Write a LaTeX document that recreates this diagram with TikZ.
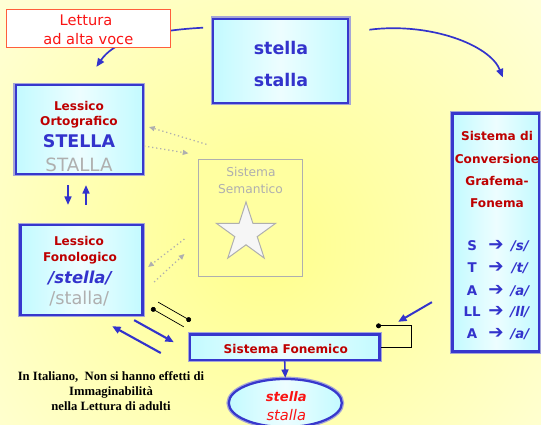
\documentclass[tikz,border=0pt]{standalone}
\usepackage{fontspec}
\setmainfont{DejaVu Sans}
\newfontfamily\notefont{Liberation Serif}
\usepackage{tikz}
\usetikzlibrary{positioning,shapes,arrows.meta,calc}
\definecolor{inkblue}{RGB}{51,51,204}
\definecolor{edgeblue}{RGB}{55,55,205}
\definecolor{edgelav}{RGB}{165,165,215}
\definecolor{boxcyan}{RGB}{195,250,255}
\definecolor{darkred}{RGB}{190,0,0}
\definecolor{lightred}{RGB}{250,20,20}
\definecolor{orangeedge}{RGB}{255,95,60}
\definecolor{semgray}{RGB}{175,175,175}
\definecolor{semyellow}{RGB}{255,255,160}
\definecolor{bgyellow}{RGB}{255,255,140}
\definecolor{starwhite}{RGB}{246,246,246}
\newcommand{\maparrow}{{\fontsize{13}{13}\selectfont ➔}}

\begin{document}
\begin{tikzpicture}[x=0.025cm,y=-0.025cm,
  bluebox/.style={rectangle, draw=edgeblue, line width=1.6pt, inner sep=0pt,
    left color=boxcyan, right color=boxcyan, middle color=boxcyan!30,
    preaction={draw=edgelav, line width=3.4pt}},
  redlbl/.style={anchor=base, text=darkred, font=\fontsize{8.6}{10}\selectfont\bfseries},
  bluelbl/.style={anchor=base, text=inkblue, font=\fontsize{12.4}{14}\selectfont\bfseries},
  graylbl/.style={anchor=base, text=semgray, font=\fontsize{13}{15}\selectfont},
  maplbl/.style={anchor=base, text=inkblue, font=\fontsize{9.5}{11}\selectfont\bfseries, inner sep=0pt},
  bluearrow/.style={draw=inkblue, line width=1.3pt, -{Triangle[length=6pt,width=5pt]}},
  dotarrow/.style={draw=semgray, dotted, line width=0.9pt, -{Triangle[length=4pt,width=3.5pt]}},
  dotline/.style={draw=black, line width=0.5pt},
]
\useasboundingbox (0,0) rectangle (541,424);

% background glow
\begin{scope}
\clip (0,0) rectangle (541,424);
\shade[inner color=bgyellow, outer color=white] (265,245) circle (560);
\end{scope}

% Sistema Semantico (greyed out)
\node[rectangle, draw=semgray, fill=semyellow, line width=0.8pt, minimum width=2.6cm, minimum height=2.92cm] (sem) at (250.5,217.7) {};
\node[anchor=base, text=semgray, font=\fontsize{8.7}{10}\selectfont] (semA) at (251,176) {Sistema};
\node[anchor=base, text=semgray, font=\fontsize{8.7}{10}\selectfont] (semB) at (250.5,193) {Semantico};
\draw[fill=starwhite, draw=semgray, line width=0.7pt, shift={(246,233)}]
  (-90:31) -- (-54:11.8) -- (-18:31) -- (18:11.8) -- (54:31) -- (90:11.8)
  -- (126:31) -- (162:11.8) -- (198:31) -- (234:11.8) -- cycle;

% word box on top
\node[bluebox, minimum width=3.375cm, minimum height=2.1cm] (stella) at (280.7,60.7) {};
\node[bluelbl] (stellaA) at (281,54) {stella};
\node[bluelbl] (stellaB) at (281,86.5) {stalla};

% lexicons
\node[bluebox, minimum width=3.175cm, minimum height=2.225cm] (orto) at (79.4,129.5) {};
\node[redlbl] (ortoA) at (79,110) {Lessico};
\node[redlbl] (ortoB) at (79,125) {Ortografico};
\node[bluelbl] (ortoC) at (79,147) {STELLA};
\node[graylbl] (ortoD) at (79,171) {STALLA};

\node[bluebox, minimum width=3.05cm, minimum height=2.25cm] (fono) at (81.6,270) {};
\node[redlbl] (fonoA) at (79,245) {Lessico};
\node[redlbl] (fonoB) at (80,261.7) {Fonologico};
\node[bluelbl, font=\fontsize{11.7}{14}\selectfont\bfseries\itshape] (fonoC) at (80,283) {/stella/};
\node[graylbl, font=\fontsize{12.6}{15}\selectfont] (fonoD) at (79.3,304) {/stalla/};

% conversion rules
\node[bluebox, minimum width=2.1625cm, minimum height=5.95cm] (conv) at (495.8,232.5) {};
\node[redlbl] (convA) at (497,140) {Sistema di};
\node[redlbl] (convB) at (497,163) {Conversione};
\node[redlbl] (convC) at (497,185) {Grafema-};
\node[redlbl] (convD) at (497,207) {Fonema};
\node[maplbl] (mapS) at (496,250.7) {\makebox[20pt]{S}\makebox[14pt]{\maparrow}\makebox[20pt]{\itshape /s/}};
\node[maplbl] (mapT) at (496,272.3) {\makebox[20pt]{T}\makebox[14pt]{\maparrow}\makebox[20pt]{\itshape /t/}};
\node[maplbl] (mapA) at (496,295) {\makebox[20pt]{A}\makebox[14pt]{\maparrow}\makebox[20pt]{\itshape /a/}};
\node[maplbl] (mapL) at (496,316.7) {\makebox[20pt]{LL}\makebox[14pt]{\maparrow}\makebox[20pt]{\itshape /ll/}};
\node[maplbl] (mapB) at (496,338.7) {\makebox[20pt]{A}\makebox[14pt]{\maparrow}\makebox[20pt]{\itshape /a/}};

% phonemic system and output
\node[bluebox, minimum width=4.7375cm, minimum height=0.6375cm] (fonem) at (284.7,347.2) {};
\node[redlbl] (fonemA) at (285.8,353.5) {Sistema Fonemico};
\node[bluebox, ellipse, minimum width=2.825cm, minimum height=1.2cm] (out) at (285.3,403) {};
\node[anchor=base, text=lightred, font=\fontsize{9.3}{11}\selectfont\bfseries\itshape] (outA) at (286.3,401) {stella};
\node[anchor=base, text=lightred, font=\fontsize{10.4}{12}\selectfont\itshape] (outB) at (286.3,420) {stalla};

% connectors
\draw[bluearrow, line width=1.2pt] ($(stella.west)+(-9,-33)$) .. controls (140,31) and (112,44) .. ($(orto.north)+(17,-17)$);
\draw[bluearrow, line width=1.2pt] ($(stella.east)+(20,-31)$) .. controls (430,22) and (490,45) .. ($(conv.north)+(7,-35)$);
\draw[bluearrow, line width=1.1pt] ($(orto.south)+(-11.4,10)$) -- ($(fono.north)+(-13.6,-19)$);
\draw[bluearrow, line width=1.1pt] ($(fono.north)+(4.4,-19)$) -- ($(orto.south)+(6.6,10)$);
\draw[dotarrow] ($(sem.north west)+(8.5,-14.4)$) -- ($(orto.east)+(5,-2.5)$);
\draw[dotarrow] ($(orto.east)+(0,16.5)$) -- ($(sem.north west)+(-9.5,-5.4)$);
\draw[dotarrow] ($(sem.west)+(-13.5,21.3)$) -- ($(fono.east)+(4.4,-3)$);
\draw[dotarrow] ($(fono.east)+(10.4,12)$) -- ($(sem.west)+(-13.5,36.3)$);
\draw[bluearrow, line width=1.5pt] ($(fono.south east)+(-9.6,4)$) -- ($(fonem.west)+(-15,-5)$);
\draw[bluearrow, line width=1.5pt] ($(fonem.west)+(-28,5.8)$) -- ($(fono.south east)+(-31.6,10)$);
\draw[dotline, {Circle[length=3.5pt]}-] ($(fono.south east)+(7.4,-8)$) -- ($(fonem.north west)+(-5,-6.5)$);
\draw[dotline, -{Circle[length=3.5pt]}] ($(fono.south east)+(14.4,-14)$) -- ($(fonem.north west)+(2,-12.5)$);
\draw[bluearrow, line width=1.4pt] ($(conv.south west)+(-19.5,-50.5)$) -- ($(fonem.north east)+(17.5,-11.5)$);
\draw[dotline, {Circle[length=3.5pt]}-] ($(fonem.north east)+(-4.5,-7.5)$) -- ++(35,0) |- (fonem.east);
\draw[bluearrow, line width=1.1pt] (fonem.south) -- (out.north);

% reading aloud label
\node[rectangle, draw=orangeedge, fill=white, line width=0.8pt, minimum width=4.1cm, minimum height=0.95cm] (lettura) at (88.7,28.3) {};
\node[anchor=base, text=lightred, font=\fontsize{10.4}{12}\selectfont] (letturaA) at (86,25.7) {Lettura};
\node[anchor=base, text=lightred, font=\fontsize{10.4}{12}\selectfont] (letturaB) at (88.3,44) {ad alta voce};

% note
\node[align=center, font=\notefont\fontsize{9}{10.7}\selectfont\bfseries] (note) at (111,391) {In Italiano,\ \ Non si hanno effetti di\\Immaginabilità\\nella Lettura di adulti};
\end{tikzpicture}
\end{document}
